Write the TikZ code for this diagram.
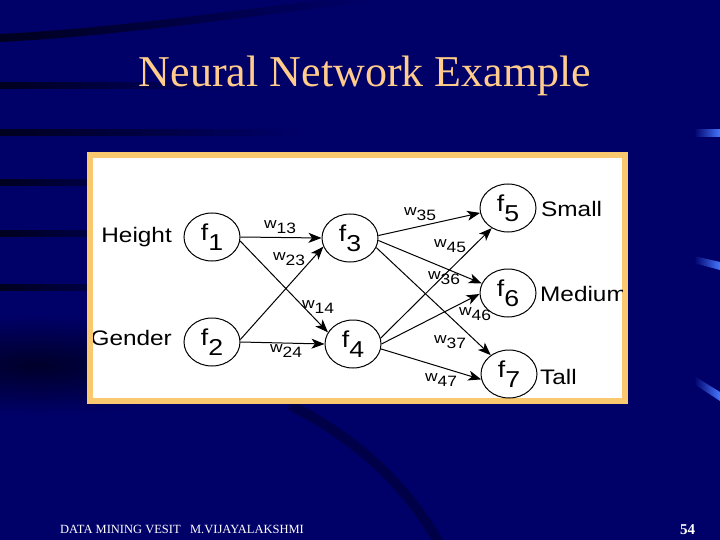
\documentclass[tikz,border=0pt]{standalone}
\usepackage{fontspec}
\setmainfont{Liberation Serif}
\newfontfamily\diagfont[FakeStretch=1.16]{Liberation Sans}
\usetikzlibrary{shapes.geometric,arrows.meta,fadings}

\definecolor{slidebg}{RGB}{0,0,105}
\definecolor{titlecol}{RGB}{255,204,140}
\definecolor{framecol}{RGB}{250,200,110}
\definecolor{dashcol}{RGB}{70,120,255}

\tikzfading[name=softband, inner color=transparent!0, outer color=transparent!100]

\newcommand{\fsub}[1]{f\raisebox{-10pt}{#1}}
\newcommand{\wsub}[1]{w\raisebox{-4.5pt}{#1}}

\begin{document}
\begin{tikzpicture}[x=1pt, y=-1pt,
    neuron/.style={ellipse, draw, line width=1pt, minimum width=56pt, minimum height=48pt, inner sep=0pt, font=\diagfont\fontsize{23}{23}\selectfont},
    link/.style={-{Stealth[length=13pt, width=10pt, inset=3.5pt]}, line width=1pt},
    weight/.style={inner sep=0pt, font=\diagfont\fontsize{15}{15}\selectfont},
    tag/.style={inner sep=0pt, font=\diagfont\fontsize{21}{21}\selectfont},
    stripe/.style={black, opacity=0.7, path fading=east}]

        \useasboundingbox (0,0) rectangle (720,540);

        % Slide background
        \fill[slidebg] (0,0) rectangle (720,540);
        \fill[stripe] (0,34) .. controls (120,28) and (250,8) .. (370,-6) -- (370,2) .. controls (250,16) and (120,36) .. (0,42) -- cycle;
        \fill[stripe] (0,82) rectangle (230,89);
        \fill[stripe] (0,129) rectangle (300,136);
        \fill[stripe] (0,179) rectangle (180,186);
        \fill[stripe] (0,230) rectangle (180,237);
        \fill[stripe] (0,284) rectangle (180,291);
        \fill[black, opacity=0.6, path fading=softband] (-160,315) rectangle (230,415);
        \draw[black, opacity=0.3, line width=10pt] (290,405) .. controls (360,440) and (410,490) .. (440,545);

        % Blue dashes at the right edge
        \fill[dashcol, path fading=west] (694,129) rectangle (720,137);
        \fill[dashcol, path fading=west] (694,256) -- (720,262) -- (720,270) -- (694,263) -- cycle;
        \fill[dashcol, path fading=west] (694,376) -- (720,392) -- (720,401) -- (694,384) -- cycle;

        % Title
        \node[text=titlecol, font=\fontsize{44}{50}\selectfont, anchor=base] (title) at (365,87) {Neural Network Example};

        % Frame
        \fill[framecol] (87,152) rectangle (628,404);
        \fill[white] (93,158) rectangle (622,398);

        \begin{scope}
        \clip (93,158) rectangle (622,398);

        % Neurons
        \node[neuron] (f1) at (212,237) {\fsub{1}};
        \node[neuron] (f2) at (212,342) {\fsub{2}};
        \node[neuron] (f3) at (350,238) {\fsub{3}};
        \node[neuron] (f4) at (353,344) {\fsub{4}};
        \node[neuron] (f5) at (508,208) {\fsub{5}};
        \node[neuron] (f6) at (508,293) {\fsub{6}};
        \node[neuron] (f7) at (509,374) {\fsub{7}};

        % Inputs and outputs
        \node[tag, anchor=base east] (height) at (172,243) {Height};
        \node[tag, anchor=base east] (gender) at (172,345) {Gender};
        \node[tag, anchor=base west] (small) at (541,216) {Small};
        \node[tag, anchor=base west] (medium) at (540,301) {Medium};
        \node[tag, anchor=base west] (tall) at (540,384) {Tall};

        % Links
        \draw[link] (f1.east) -- (f3.west);
        \draw[link] (f1.-8) -- (f4.155);
        \draw[link] (f2.5) -- (f3.198);
        \draw[link] (f2.east) -- (f4.west);
        \draw[link] (f3.5) -- (f5.190);
        \draw[link] (f3.-5) -- (f6.160);
        \draw[link] (f3.-20) -- (f7.134);
        \draw[link] (f4.12) -- (f5.231);
        \draw[link] (f4.0) -- (f6.182);
        \draw[link] (f4.-10) -- (f7.191);

        % Weights
        \node[weight] (w13) at (280,227) {\wsub{13}};
        \node[weight] (w23) at (289,259) {\wsub{23}};
        \node[weight] (w14) at (318,307) {\wsub{14}};
        \node[weight] (w24) at (286,351) {\wsub{24}};
        \node[weight] (w35) at (420,214) {\wsub{35}};
        \node[weight] (w45) at (450,246) {\wsub{45}};
        \node[weight] (w36) at (444,278) {\wsub{36}};
        \node[weight] (w46) at (475,314) {\wsub{46}};
        \node[weight] (w37) at (450,342) {\wsub{37}};
        \node[weight] (w47) at (441,380) {\wsub{47}};
        \end{scope}

        % Footer
        \node[text=white, font=\fontsize{12.5}{14}\selectfont, anchor=base west, inner sep=0pt] (footer) at (60,533) {DATA MINING VESIT\ \ \ M.VIJAYALAKSHMI};
        \node[text=white, font=\bfseries\fontsize{15}{16}\selectfont, anchor=base west, inner sep=0pt] (page) at (680,534) {54};

\end{tikzpicture}
\end{document}
